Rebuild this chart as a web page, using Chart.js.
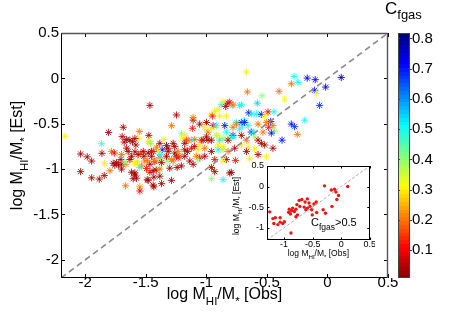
<!DOCTYPE html>
<html><head><meta charset="utf-8">
<script src="https://cdn.jsdelivr.net/npm/chart.js@4.4.1/dist/chart.umd.min.js"></script>
<style>
html,body{margin:0;padding:0;background:#fff;}
#wrap{position:relative;width:463px;height:316px;overflow:hidden;}
#main{position:absolute;left:0;top:0;}
#inset{position:absolute;left:225px;top:155px;}
</style></head><body>
<div id="wrap"><canvas id="main" width="463" height="316"></canvas><canvas id="inset" width="150" height="110"></canvas></div>
<script>
// ---------- data ----------
const obs = [
-2.167,-2.038,-1.983,-1.947,-2.038,-1.947,-1.884,-1.843,-1.865,-1.862,-1.84,-1.807,
-1.782,-1.796,-1.76,-1.686,-1.695,-1.678,-1.705,-1.741,-1.725,-1.697,-1.664,-1.631,-1.609,-1.554,-1.563,-1.582,-1.59,-1.618,-1.59,-1.604,-1.667,-1.549,-1.549,-1.466,-1.475,-1.466,-1.453,-1.541,-1.516,-1.568,-1.582,-1.488,-1.466,-1.425,-1.414,-1.466,-1.488,-1.433,-1.37,-1.384,-1.365,-1.392,-1.329,-1.329,
-1.658,-1.59,-1.48,-1.461,-1.384,-1.351,-1.769,-1.755,-1.7,-1.658,-1.645,-1.7,-1.672,-1.631,-1.59,-1.617,-1.563,-1.521,-1.48,-1.439,-1.411,-1.452,-1.384,-1.508,-1.425,-1.384,-1.37,-1.535,-1.549,-1.494,-1.439,-1.384,-1.59,-1.576,-1.48,-1.433,-1.384,-1.439,-1.315,-1.324,
-1.288,-1.274,-1.26,-1.274,-1.247,-1.247,-1.241,-1.288,-1.219,-1.205,-1.192,-1.164,-1.156,-1.178,-1.109,-1.115,-1.123,-1.096,-1.082,-1.109,-1.054,-1.054,-1.027,-0.999,-0.986,-0.986,-0.958,-0.944,-0.95,-0.917,-0.917,-0.903,-0.89,-0.876,-0.862,-0.84,-0.821,-0.78,-0.807,-0.725,-0.835,-0.848,-0.835,-0.807,-0.89,-0.862,-0.835,-0.78,-0.78,-0.752,-0.711,-0.703,-0.684,-0.76,-0.931,-0.807,-0.958,-0.862,
-1.178,-1.151,-1.096,-1.041,-0.999,-0.958,-0.903,-0.862,-0.821,-0.78,-0.711,-0.67,-0.629,-0.601,-1.316,-1.261,-1.233,-1.178,-1.123,-1.068,-1.013,-0.958,-0.903,-0.862,-0.821,-0.766,-0.711,-1.329,-1.288,-1.233,-1.178,-1.137,-1.068,-1.013,-0.931,-0.862,-1.302,-1.206,-0.958,-0.794,-1.109,-1.055,-1.013,-0.958,-0.931,-0.903,-0.78,-0.711,-0.752,-0.725,-0.684,
-0.669,-0.276,-0.298,-0.243,-0.167,-0.101,0.114,-0.106,-0.015,-0.092,-0.353,-0.4,-0.54,-0.661,-0.579,-0.065,-0.188,-0.65,-0.625,-0.587,-0.546,-0.518,-0.491,-0.441,-0.469,-0.504,-0.573,-0.532,-0.614,-0.655,-0.485,-0.436,-0.463,-0.298,-0.271,-0.249,-0.375,-0.573,-0.546,-0.518,-0.45,-0.655,-0.6,-0.642,-0.573,-0.504,-0.669,-0.45
];
const est = [
-0.638,-0.833,-0.865,-0.911,-1.028,-1.096,-1.11,-1.071,-0.72,-0.826,-0.94,-0.596,
-0.805,-1.018,-0.823,-0.539,-0.642,-0.702,-0.894,-0.929,-0.954,-0.947,-0.947,-0.681,-0.699,-0.585,-0.663,-0.734,-0.809,-1.035,-1.043,-1.106,-1.184,-1.195,-1.241,-0.298,-0.628,-0.699,-0.805,-0.823,-0.858,-0.911,-0.947,-0.904,-0.947,-0.918,-1.011,-1.035,-1.117,-1.195,-1.16,-0.876,-0.787,-0.805,-0.741,-0.876,
-0.674,-0.663,-0.699,-0.716,-0.716,-0.674,-0.936,-0.957,-0.84,-0.769,-0.805,-1.0,-0.922,-0.894,-0.929,-0.858,-0.84,-0.805,-0.823,-0.805,-0.759,-0.858,-0.84,-0.911,-0.911,-0.894,-0.929,-0.965,-0.982,-0.993,-1.018,-1.0,-1.064,-1.1,-1.124,-1.089,-1.078,-1.177,-0.805,-0.911,
-0.521,-0.716,-0.823,-0.911,-0.404,-0.858,-0.982,-1.124,-0.858,-0.61,-0.663,-0.681,-0.805,-0.716,-0.461,-0.55,-0.681,-0.752,-0.858,-0.947,-0.876,-0.734,-0.681,-0.486,-0.592,-0.681,-0.397,-0.521,-0.415,-0.521,-0.628,-0.734,-0.415,-0.291,-0.255,-0.309,-0.273,-0.301,-0.262,-0.298,-0.415,-0.521,-0.592,-0.663,-0.681,-0.787,-0.894,-0.539,-0.628,-0.486,-0.486,-0.521,-0.468,-0.904,-1.028,-1.043,-1.106,-1.117,
-0.628,-0.681,-0.674,-0.681,-0.645,-0.681,-0.628,-0.663,-0.681,-0.645,-0.628,-0.681,-0.592,-0.645,-0.77,-0.752,-0.805,-0.787,-0.77,-0.787,-0.77,-0.805,-0.787,-0.752,-0.805,-0.77,-0.734,-0.858,-0.894,-0.876,-0.858,-0.911,-0.894,-0.858,-0.894,-0.911,-0.99,-0.965,-0.982,-1.036,-0.433,-0.504,-0.539,-0.557,-0.362,-0.344,-0.291,-0.291,-0.504,-0.557,-0.486,
0.071,0.021,-0.06,-0.043,0.003,-0.014,0.01,-0.131,-0.096,-0.167,-0.227,-0.142,-0.192,-0.149,-0.273,-0.298,-0.461,-0.38,-0.395,-0.39,-0.397,-0.415,-0.369,-0.369,-0.475,-0.486,-0.504,-0.592,-0.592,-0.521,-0.539,-0.582,-0.603,-0.504,-0.532,-0.617,-0.681,-0.681,-0.716,-0.734,-0.77,-0.759,-0.78,-0.887,-0.84,-0.865,-0.805,-0.521
];
const cfgas = [
0.3,0.04,0.04,0.04,0.04,0.04,0.04,0.06,0.47,0.04,0.3,0.04,
0.2,0.2,0.1,0.04,0.04,0.04,0.04,0.04,0.04,0.04,0.2,0.04,0.04,0.2,0.3,0.04,0.04,0.04,0.04,0.04,0.2,0.22,0.1,0.04,0.04,0.3,0.04,0.2,0.04,0.38,0.3,0.2,0.04,0.1,0.04,0.1,0.04,0.04,0.04,0.12,0.72,0.3,0.04,0.4,
0.04,0.04,0.3,0.4,0.04,0.3,0.04,0.04,0.2,0.04,0.04,0.04,0.4,0.04,0.3,0.04,0.04,0.04,0.04,0.12,0.2,0.04,0.52,0.2,0.2,0.4,0.04,0.2,0.48,0.12,0.04,0.2,0.04,0.04,0.04,0.04,0.04,0.04,0.04,0.4,
0.2,0.04,0.04,0.2,0.04,0.04,0.04,0.04,0.2,0.4,0.3,0.12,0.04,0.04,0.04,0.12,0.5,0.04,0.2,0.04,0.04,0.3,0.04,0.04,0.2,0.04,0.3,0.04,0.12,0.5,0.4,0.3,0.3,0.5,0.3,0.04,0.04,0.5,0.12,0.5,0.3,0.7,0.5,0.4,0.5,0.4,0.04,0.2,0.7,0.5,0.7,0.5,0.5,0.12,0.04,0.04,0.4,0.5,
0.3,0.2,0.2,0.12,0.04,0.04,0.3,0.4,0.04,0.5,0.04,0.2,0.7,0.4,0.04,0.04,0.2,0.04,0.12,0.3,0.2,0.04,0.5,0.3,0.2,0.04,0.3,0.04,0.2,0.12,0.04,0.04,0.4,0.04,0.12,0.3,0.04,0.04,0.04,0.04,0.2,0.04,0.3,0.3,0.3,0.3,0.2,0.5,0.2,0.5,0.7,
0.3,0.5,0.2,0.52,0.72,0.72,0.78,0.7,0.72,0.32,0.32,0.2,0.4,0.2,0.55,0.68,0.5,0.7,0.5,0.5,0.7,0.3,0.12,0.5,0.7,0.2,0.2,0.2,0.5,0.5,0.12,0.4,0.7,0.7,0.68,0.2,0.7,0.04,0.04,0.04,0.04,0.3,0.3,0.3,0.04,0.3,0.04,0.2
];
// inset: galaxies with C_fgas > 0.5
const insetObs = [-1.253,-1.196,-1.155,-1.18,-1.11,-1.07,-1.07,-1.024,-0.995,-0.91,-0.92,-0.89,-0.868,-0.85,-0.82,-0.793,-0.776,-0.766,-0.724,-0.736,-0.69,-0.65,-0.633,-0.593,-0.593,-0.62,-0.564,-0.547,-0.517,-0.478,-0.438,-0.507,-0.88,-0.317,-0.276,-0.293,-0.173,-0.116,-0.093,-0.047,-0.076,-0.162,0.114,-0.43,-0.793];
const insetEst = [-0.615,-0.78,-0.758,-0.9,-0.925,-0.758,-0.866,-0.9,-0.857,-0.55,-0.624,-0.666,-0.59,-0.524,-0.607,-0.55,-0.44,-0.69,-0.483,-0.34,-0.316,-0.5,-0.374,-0.3,-0.524,-0.566,-0.4,-0.483,-0.566,-0.424,-0.375,-0.69,-1.13,-0.566,-0.65,0.017,-0.082,-0.066,-0.133,-0.216,-0.316,-0.483,0.0,-0.63,-0.733];

// axis ranges and ticks
const axisMin = -2.2, axisMax = 0.5;
const xTicks = [-2, -1.5, -1, -0.5, 0, 0.5];
const yTicks = [0.5, 0, -0.5, -1, -1.5, -2];
const cMin = 0.008, cMax = 0.818;
const cTicks = [0.1, 0.2, 0.3, 0.4, 0.5, 0.6, 0.7, 0.8];
const insetMin = -1.3, insetMax = 0.5;
const insetXTicks = [-1, -0.5, 0, 0.5];
const insetYTicks = [0.5, 0, -0.5, -1];

// ---------- helpers ----------
const FONT = '"Liberation Sans", Arial, Helvetica, sans-serif';
function clamp(v){ return Math.max(0, Math.min(1, v)); }
function jet(v){
  const t = clamp((v - cMin) / (cMax - cMin));
  const s = 1 - t;
  const r = clamp(1.5 - Math.abs(4*s - 3)), g = clamp(1.5 - Math.abs(4*s - 2)), b = clamp(1.5 - Math.abs(4*s - 1));
  return `rgb(${Math.round(r*255)},${Math.round(g*255)},${Math.round(b*255)})`;
}
function rich(ctx, parts, x, y, size, align){
  const sub = size * 0.72;
  let total = 0;
  parts.forEach(p => { ctx.font = (p[1] ? sub : size) + 'px ' + FONT; total += ctx.measureText(p[0]).width; });
  let cx = align === 'center' ? x - total/2 : x;
  ctx.textAlign = 'left'; ctx.textBaseline = 'alphabetic'; ctx.fillStyle = '#000';
  parts.forEach(p => {
    ctx.font = (p[1] ? sub : size) + 'px ' + FONT;
    ctx.fillText(p[0], cx, y + (p[1] ? size*0.36 : 0));
    cx += ctx.measureText(p[0]).width;
  });
}
const labelObs = [['log M',0],['HI',1],['/M',0],['*',1],[' [Obs]',0]];
const labelEst = [['log M',0],['HI',1],['/M',0],['*',1],[' [Est]',0]];
function seg(ctx,x1,y1,x2,y2){ ctx.beginPath(); ctx.moveTo(x1,y1); ctx.lineTo(x2,y2); ctx.stroke(); }

// ---------- main chart ----------
const mainColors = cfgas.map(jet);
const mainPts = obs.map((x,i) => ({x: x, y: est[i]}));

const mainPlugin = {
  id: 'mainDeco',
  afterDraw(chart){
    const {ctx, chartArea: a, scales} = chart;
    const sx = scales.x, sy = scales.y, sc = scales.c;
    ctx.save();
    ctx.lineWidth = 1; ctx.strokeStyle = '#000';
    xTicks.forEach(v => { const p = Math.round(sx.getPixelForValue(v)) + 0.5; seg(ctx,p,a.bottom,p,a.bottom-4); seg(ctx,p,a.top,p,a.top+4); });
    yTicks.forEach(v => { const p = Math.round(sy.getPixelForValue(v)) + 0.5; seg(ctx,a.left,p,a.left+4,p); seg(ctx,a.right,p,a.right-4,p); });
    // frame
    const L = Math.round(a.left)+0.5, R = Math.round(a.right)-0.5, T = Math.round(a.top)+0.5, B = Math.round(a.bottom)-0.5;
    ctx.strokeStyle = '#000'; seg(ctx,L,T,L,B); seg(ctx,L,B,R,B);
    ctx.strokeStyle = '#555'; ctx.lineWidth = 1.4; seg(ctx,L,T,R,T); seg(ctx,R,T,R,B);
    // colorbar
    const x0 = 398, w = 12;
    const top = sc.getPixelForValue(cMax), bot = sc.getPixelForValue(cMin);
    const n = 64;
    for (let i = 0; i < n; i++){
      const v = cMin + (i + 0.5) * (cMax - cMin) / n;
      const y1 = sc.getPixelForValue(cMin + i*(cMax-cMin)/n), y2 = sc.getPixelForValue(cMin + (i+1)*(cMax-cMin)/n);
      ctx.fillStyle = jet(v);
      ctx.fillRect(x0, Math.floor(y2), w, Math.ceil(y1) - Math.floor(y2));
    }
    ctx.lineWidth = 1; ctx.strokeStyle = '#444';
    ctx.strokeRect(x0+0.5, Math.round(top)+0.5, w-1, Math.round(bot-top)-1);
    cTicks.forEach(v => { const p = Math.round(sc.getPixelForValue(v))+0.5; seg(ctx,x0,p,x0+2,p); seg(ctx,x0+w,p,x0+w+2,p); });
    // titles
    rich(ctx, labelObs, (a.left + a.right)/2, 299, 16, 'center');
    ctx.save(); ctx.translate(22, (a.top + a.bottom)/2); ctx.rotate(-Math.PI/2);
    rich(ctx, labelEst, 0, 0, 16, 'center'); ctx.restore();
    ctx.fillStyle = '#000'; ctx.textAlign = 'left'; ctx.textBaseline = 'alphabetic';
    ctx.font = '17px ' + FONT; ctx.fillText('C', 385, 14);
    const cw = ctx.measureText('C').width;
    ctx.font = '13px ' + FONT; ctx.fillText('fgas', 385 + cw, 18.5);
    ctx.restore();
  }
};

new Chart(document.getElementById('main'), {
  type: 'scatter',
  data: { datasets: [
    { type: 'line', data: [{x: axisMin, y: axisMin}, {x: axisMax, y: axisMax}], borderColor: '#8a8a8a', borderWidth: 1.6, borderDash: [6, 4], pointRadius: 0, fill: false, order: 0 },
    { data: mainPts, pointStyle: 'star', pointRadius: 3.6, pointBorderWidth: 0.85, pointBorderColor: mainColors, pointBackgroundColor: mainColors, order: 1 }
  ]},
  options: {
    responsive: false, animation: false, devicePixelRatio: 1, events: [],
    layout: { padding: { top: 24, right: 15, left: 0, bottom: 0 } },
    plugins: { legend: { display: false }, tooltip: { enabled: false } },
    scales: {
      x: { type: 'linear', position: 'bottom', min: axisMin, max: axisMax,
           grid: { display: false, drawTicks: false }, border: { display: false },
           ticks: { font: { family: FONT, size: 15 }, color: '#000', padding: -4, maxRotation: 0, autoSkip: false, callback: v => String(v) },
           afterBuildTicks: s => { s.ticks = xTicks.map(v => ({value: v})); },
           afterFit: s => { s.height = 38; } },
      y: { type: 'linear', position: 'left', min: axisMin, max: axisMax,
           grid: { display: false, drawTicks: false }, border: { display: false },
           ticks: { font: { family: FONT, size: 15 }, color: '#000', padding: 2, autoSkip: false, callback: v => String(v) },
           afterBuildTicks: s => { s.ticks = yTicks.map(v => ({value: v})); },
           afterFit: s => { s.width = 61; } },
      c: { type: 'linear', axis: 'y', position: 'right', min: cMin, max: cMax,
           grid: { display: false, drawTicks: false }, border: { display: false },
           ticks: { font: { family: FONT, size: 15 }, color: '#000', padding: 24, autoSkip: false, callback: v => String(v) },
           afterBuildTicks: s => { s.ticks = cTicks.map(v => ({value: v})); },
           afterFit: s => { s.width = 60; } }
    }
  },
  plugins: [mainPlugin]
});

// ---------- inset chart ----------
const insetPts = insetObs.map((x,i) => ({x: x, y: insetEst[i]}));
const insetPlugin = {
  id: 'insetDeco',
  beforeDatasetsDraw(chart){
    const {ctx, chartArea: a} = chart;
    ctx.save(); ctx.fillStyle = '#fff'; ctx.fillRect(a.left, a.top, a.right - a.left, a.bottom - a.top); ctx.restore();
  },
  afterDraw(chart){
    const {ctx, chartArea: a, scales} = chart;
    ctx.save();
    ctx.strokeStyle = '#000'; ctx.lineWidth = 1;
    insetXTicks.forEach(v => { const p = Math.round(scales.x.getPixelForValue(v))+0.5; seg(ctx,p,a.bottom,p,a.bottom-2.5); seg(ctx,p,a.top,p,a.top+2.5); });
    insetYTicks.forEach(v => { const p = Math.round(scales.y.getPixelForValue(v))+0.5; seg(ctx,a.left,p,a.left+2.5,p); seg(ctx,a.right,p,a.right-2.5,p); });
    ctx.strokeRect(Math.round(a.left)+0.5, Math.round(a.top)+0.5, Math.round(a.right-a.left)-1, Math.round(a.bottom-a.top)-1);
    rich(ctx, labelObs, (a.left + a.right)/2, 101, 8.5, 'center');
    ctx.save(); ctx.translate(14, 51); ctx.rotate(-Math.PI/2);
    rich(ctx, labelEst, 0, 0, 8.5, 'center'); ctx.restore();
    ctx.fillStyle = '#000'; ctx.textAlign = 'left'; ctx.textBaseline = 'alphabetic';
    ctx.font = '11px ' + FONT; ctx.fillText('C', 86, 71);
    let xx = 86 + ctx.measureText('C').width;
    ctx.font = '8.5px ' + FONT; ctx.fillText('fgas', xx, 74.5);
    xx += ctx.measureText('fgas').width;
    ctx.font = '11px ' + FONT; ctx.fillText('>0.5', xx, 71);
    ctx.restore();
  }
};
new Chart(document.getElementById('inset'), {
  type: 'scatter',
  data: { datasets: [
    { data: insetPts, pointStyle: 'circle', pointRadius: 1.7, pointBorderWidth: 0, pointBackgroundColor: '#ee1515', order: 0 },
    { type: 'line', data: [{x: insetMin, y: insetMin}, {x: insetMax, y: insetMax}], borderColor: '#9a9a9a', borderWidth: 0.8, borderDash: [3, 2], pointRadius: 0, fill: false, order: 1 }
  ]},
  options: {
    responsive: false, animation: false, devicePixelRatio: 1, events: [],
    layout: { padding: { top: 11, right: 3, left: 0, bottom: 0 } },
    plugins: { legend: { display: false }, tooltip: { enabled: false } },
    scales: {
      x: { type: 'linear', min: insetMin, max: insetMax,
           grid: { display: false, drawTicks: false }, border: { display: false },
           ticks: { font: { family: FONT, size: 9 }, color: '#000', padding: -1, maxRotation: 0, autoSkip: false, callback: v => String(v) },
           afterBuildTicks: s => { s.ticks = insetXTicks.map(v => ({value: v})); },
           afterFit: s => { s.height = 25; } },
      y: { type: 'linear', min: insetMin, max: insetMax,
           grid: { display: false, drawTicks: false }, border: { display: false },
           ticks: { font: { family: FONT, size: 9 }, color: '#000', padding: 3, autoSkip: false, callback: v => String(v) },
           afterBuildTicks: s => { s.ticks = insetYTicks.map(v => ({value: v})); },
           afterFit: s => { s.width = 42; } }
    }
  },
  plugins: [insetPlugin]
});
</script></body></html>
